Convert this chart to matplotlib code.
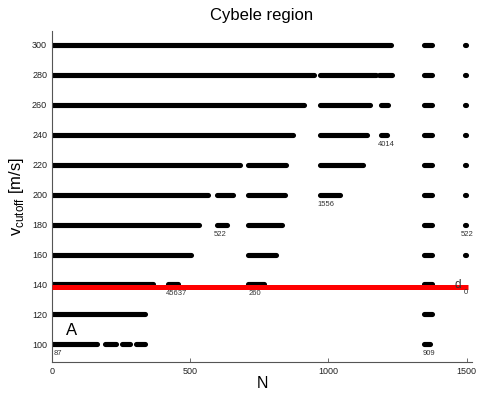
"""Cybele region: cut-off velocity levels vs N, with the red reference line."""

import matplotlib

matplotlib.use("Agg")
import matplotlib.pyplot as plt  # noqa: E402

INK, SPINE, RED = "#000000", "#555555", "#FF0000"

plt.rcParams["font.family"] = ["Liberation Sans", "DejaVu Sans"]
plt.rcParams["mathtext.fontset"] = "custom"
plt.rcParams["mathtext.rm"] = "Liberation Sans"

# cut-off velocity levels [m/s] and the N ranges covered at each level
V_LEVELS = [300, 280, 260, 240, 220, 200, 180, 160, 140, 120, 100]
SEG_300 = [(0, 1225), (1345, 1373), (1495, 1499)]
SEG_280 = [(0, 948), (971, 1173), (1182, 1228), (1345, 1373), (1495, 1499)]
SEG_260 = [(0, 912), (970, 1149), (1191, 1217), (1345, 1373), (1495, 1499)]
SEG_240 = [(0, 872), (970, 1141), (1191, 1211), (1345, 1373), (1495, 1499)]
SEG_220 = [(0, 679), (710, 845), (970, 1125), (1345, 1373), (1495, 1499)]
SEG_200 = [(0, 564), (595, 656), (710, 843), (970, 1041), (1345, 1373), (1495, 1499)]
SEG_180 = [(0, 532), (595, 632), (710, 831), (1345, 1373), (1495, 1499)]
SEG_160 = [(0, 504), (710, 811), (1345, 1373), (1495, 1499)]
SEG_140 = [(0, 364), (418, 454), (710, 767), (1345, 1373)]
SEG_120 = [(0, 335), (1345, 1373)]
SEG_100 = [(0, 164), (191, 230), (254, 282), (304, 335), (1345, 1368)]
SEGMENTS = [SEG_300, SEG_280, SEG_260, SEG_240, SEG_220, SEG_200,
            SEG_180, SEG_160, SEG_140, SEG_120, SEG_100]

# red reference level
V_REF = 138.3
N_REF = (0, 1503)

# small counts printed under some segments
NOTE_TEXT = ["4014", "1556", "522", "522", "45637", "260", "0", "87", "909"]
NOTE_N = [1210, 990, 607, 1500, 451, 734, 1495, 20, 1364]
NOTE_V = [236, 196, 176, 176, 136, 136, 137, 96, 96]

X_TICKS = [0, 500, 1000, 1500]
Y_TICKS = [100, 120, 140, 160, 180, 200, 220, 240, 260, 280, 300]


def main() -> None:
    fig = plt.figure(figsize=(4.85, 3.96), dpi=100)
    ax = fig.add_axes([0.1072, 0.0859, 0.866, 0.836])

    for v, segs in zip(V_LEVELS, SEGMENTS):
        for n0, n1 in segs:
            ax.plot([n0, n1], [v, v], color=INK, lw=3.7, solid_capstyle="round", zorder=2)

    ax.plot(N_REF, [V_REF, V_REF], color=RED, lw=3.6, solid_capstyle="butt", zorder=3)

    for txt, n, v in zip(NOTE_TEXT, NOTE_N, NOTE_V):
        ax.text(n, v, txt, ha="center", va="top", fontsize=5.5, color="#333333", zorder=4)
    ax.text(1468, 139.5, "d", ha="center", va="center", fontsize=8.5, color="#333333", zorder=4)
    ax.text(71, 109.4, "A", ha="center", va="center", fontsize=12, color=INK, zorder=4)

    ax.set_xlim(0, 1519)
    ax.set_ylim(88.2, 309.4)
    ax.set_xticks(X_TICKS)
    ax.set_yticks(Y_TICKS)
    ax.tick_params(direction="in", length=3, width=0.6, labelsize=6.5, colors=SPINE,
                   labelcolor="#222222")
    for side in ("top", "right"):
        ax.spines[side].set_visible(False)
    for side in ("left", "bottom"):
        ax.spines[side].set_color(SPINE)
        ax.spines[side].set_linewidth(0.8)

    ax.set_xlabel("N", fontsize=11.5, labelpad=0)
    ax.set_ylabel(r"v$_{\mathrm{cutoff}}$ [m/s]", fontsize=12, labelpad=4)
    ax.set_title("Cybele region", fontsize=12, pad=8)

    fig.savefig("out.png", dpi=100)
    plt.close(fig)


if __name__ == "__main__":
    main()
